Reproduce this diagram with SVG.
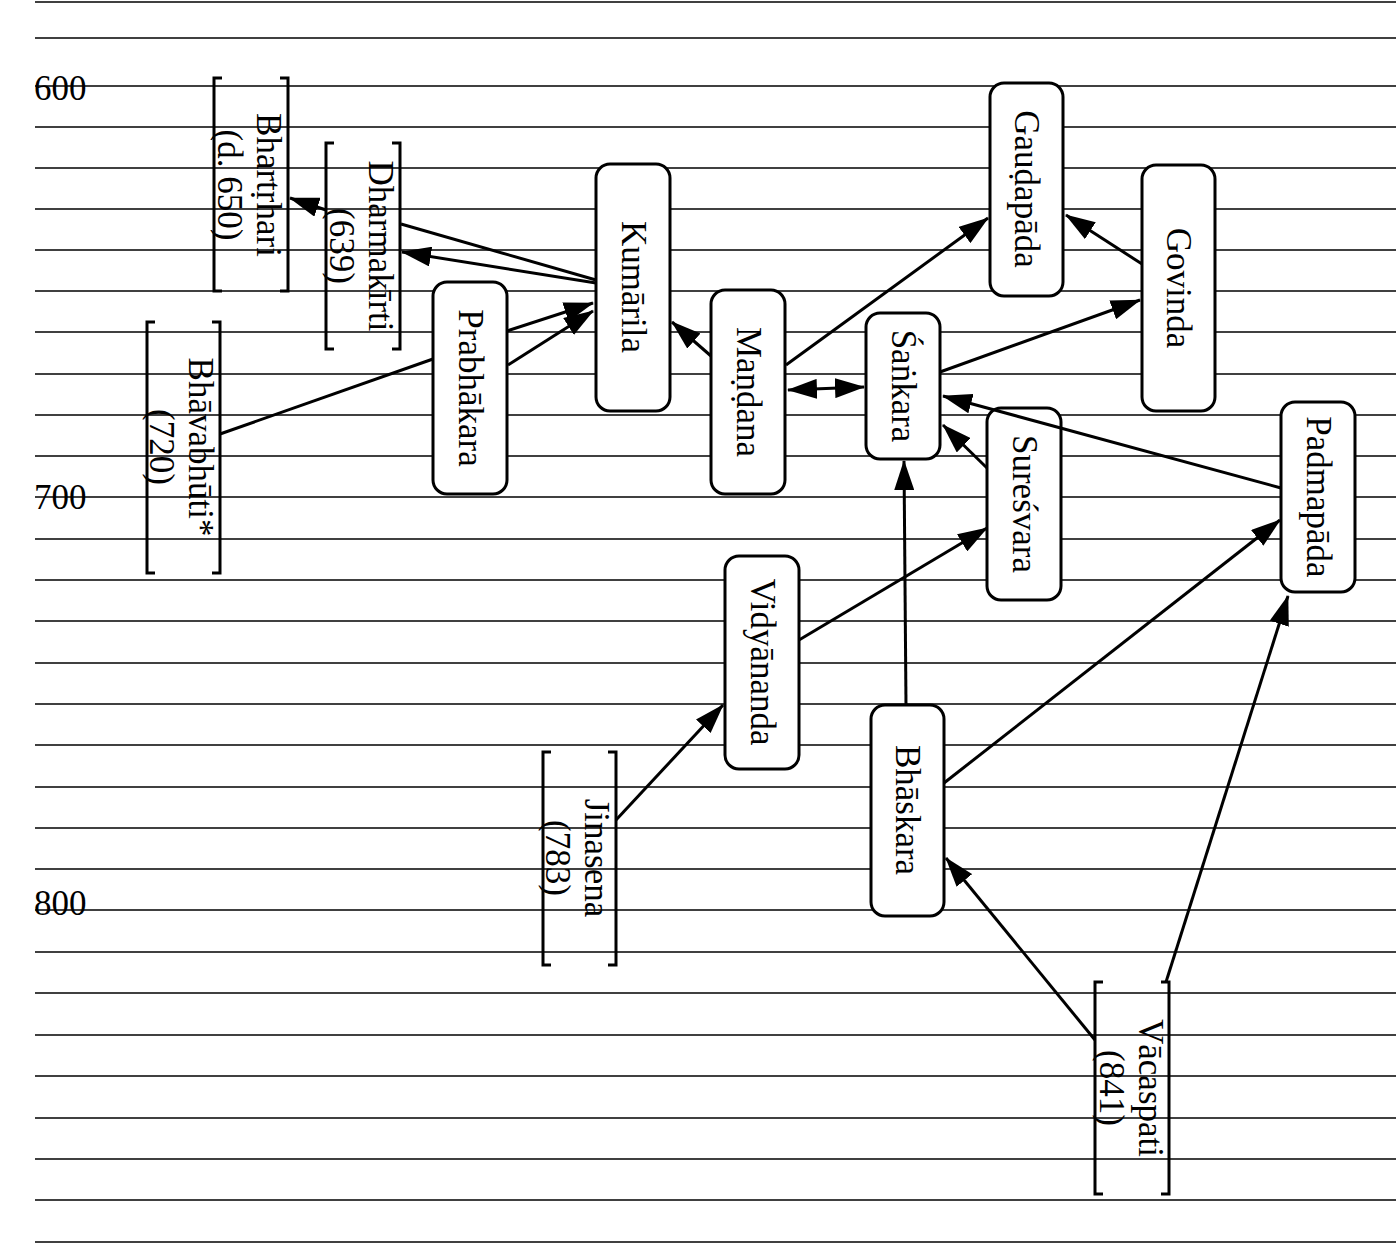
<svg xmlns="http://www.w3.org/2000/svg" width="1396" height="1250" viewBox="0 0 1396 1250">
<style>
.g line{stroke:#000;stroke-width:1.5}
.b{fill:#fff;stroke:#000;stroke-width:3}
.k{fill:none;stroke:#000;stroke-width:3}
text{font-family:"Liberation Serif","DejaVu Serif",serif;font-size:35px;fill:#000}
.t{text-anchor:middle;dominant-baseline:central}
.c line{stroke:#000;stroke-width:3;fill:none}
</style>
<defs>
<marker id="a" viewBox="0 0 30 20" refX="29" refY="10" markerWidth="30" markerHeight="20" markerUnits="userSpaceOnUse" orient="auto-start-reverse"><path d="M0,0L30,10L0,20z" fill="#000"/></marker>
</defs>
<rect width="1396" height="1250" fill="#fff"/>
<g class="g">
<line x1="35" y1="2" x2="1396" y2="2"/><line x1="35" y1="38" x2="1396" y2="38"/>
<line x1="35" y1="86" x2="1396" y2="86"/><line x1="35" y1="127" x2="1396" y2="127"/>
<line x1="35" y1="168" x2="1396" y2="168"/><line x1="35" y1="209" x2="1396" y2="209"/>
<line x1="35" y1="250" x2="1396" y2="250"/><line x1="35" y1="291" x2="1396" y2="291"/>
<line x1="35" y1="332" x2="1396" y2="332"/><line x1="35" y1="374" x2="1396" y2="374"/>
<line x1="35" y1="415" x2="1396" y2="415"/><line x1="35" y1="456" x2="1396" y2="456"/>
<line x1="35" y1="497" x2="1396" y2="497"/><line x1="35" y1="539" x2="1396" y2="539"/>
<line x1="35" y1="580" x2="1396" y2="580"/><line x1="35" y1="621" x2="1396" y2="621"/>
<line x1="35" y1="663" x2="1396" y2="663"/><line x1="35" y1="704" x2="1396" y2="704"/>
<line x1="35" y1="745" x2="1396" y2="745"/><line x1="35" y1="787" x2="1396" y2="787"/>
<line x1="35" y1="828" x2="1396" y2="828"/><line x1="35" y1="869" x2="1396" y2="869"/>
<line x1="35" y1="910" x2="1396" y2="910"/><line x1="35" y1="952" x2="1396" y2="952"/>
<line x1="35" y1="993" x2="1396" y2="993"/><line x1="35" y1="1035" x2="1396" y2="1035"/>
<line x1="35" y1="1076" x2="1396" y2="1076"/><line x1="35" y1="1118" x2="1396" y2="1118"/>
<line x1="35" y1="1159" x2="1396" y2="1159"/><line x1="35" y1="1200" x2="1396" y2="1200"/>
<line x1="35" y1="1242" x2="1396" y2="1242"/>
</g>
<text x="34" y="100" font-size="46">600</text>
<text x="34" y="509" font-size="46">700</text>
<text x="34" y="915" font-size="46">800</text>
<g id="bhartrhari"><path class="k" d="M222,78H214V291H222M280,78H288V291H280"/>
<text class="t" transform="rotate(90 268 185)" x="268" y="185">Bhartṛhari</text>
<text class="t" transform="rotate(90 229 185)" x="229" y="185">(d. 650)</text></g>
<g id="dharmakirti"><path class="k" d="M334,143H326V349H334M392,143H400V349H392"/>
<text class="t" transform="rotate(90 380 246)" x="380" y="246">Dharmakīrti</text>
<text class="t" transform="rotate(90 341 246)" x="341" y="246">(639)</text></g>
<g id="bhavabhuti"><path class="k" d="M155,322H147V573H155M212,322H220V573H212"/>
<text class="t" transform="rotate(90 200 447)" x="200" y="447">Bhāvabhūti*</text>
<text class="t" transform="rotate(90 161 447)" x="161" y="447">(720)</text></g>
<g id="prabhakara"><rect class="b" x="433" y="282" width="74" height="212" rx="14"/>
<text class="t" transform="rotate(90 470 388)" x="470" y="388">Prabhākara</text></g>
<g id="kumarila"><rect class="b" x="596" y="164" width="74" height="247" rx="14"/>
<text class="t" transform="rotate(90 633 287)" x="633" y="287">Kumārila</text></g>
<g id="mandana"><rect class="b" x="711" y="290" width="74" height="204" rx="14"/>
<text class="t" transform="rotate(90 748 392)" x="748" y="392">Maṇḍana</text></g>
<g id="sankara"><rect class="b" x="866" y="313" width="74" height="146" rx="14"/>
<text class="t" transform="rotate(90 903 386)" x="903" y="386">Śaṅkara</text></g>
<g id="gaudapada"><rect class="b" x="990" y="83" width="73" height="213" rx="14"/>
<text class="t" transform="rotate(90 1026 189)" x="1026" y="189">Gauḍapāda</text></g>
<g id="govinda"><rect class="b" x="1142" y="165" width="73" height="246" rx="14"/>
<text class="t" transform="rotate(90 1178 288)" x="1178" y="288">Govinda</text></g>
<g id="suresvara"><rect class="b" x="987" y="408" width="74" height="192" rx="14"/>
<text class="t" transform="rotate(90 1024 504)" x="1024" y="504">Sureśvara</text></g>
<g id="padmapada"><rect class="b" x="1281" y="402" width="74" height="190" rx="14"/>
<text class="t" transform="rotate(90 1318 497)" x="1318" y="497">Padmapāda</text></g>
<g id="vidyananda"><rect class="b" x="725" y="556" width="74" height="213" rx="14"/>
<text class="t" transform="rotate(90 762 662)" x="762" y="662">Vidyānanda</text></g>
<g id="bhaskara"><rect class="b" x="871" y="705" width="73" height="211" rx="14"/>
<text class="t" transform="rotate(90 907 810)" x="907" y="810">Bhāskara</text></g>
<g id="jinasena"><path class="k" d="M551,752H543V965H551M608,752H616V965H608"/>
<text class="t" transform="rotate(90 596 858)" x="596" y="858">Jinasena</text>
<text class="t" transform="rotate(90 557 858)" x="557" y="858">(783)</text></g>
<g id="vacaspati"><path class="k" d="M1103,982H1095V1194H1103M1161,982H1169V1194H1161"/>
<text class="t" transform="rotate(90 1150 1088)" x="1150" y="1088">Vācaspati</text>
<text class="t" transform="rotate(90 1111 1088)" x="1111" y="1088">(841)</text></g>
<g class="c" id="connectors">
<line x1="326" y1="210" x2="290" y2="198" marker-end="url(#a)"/>
<line x1="596" y1="280" x2="401" y2="224"/>
<line x1="596" y1="283" x2="402" y2="252" marker-end="url(#a)"/>
<line x1="507" y1="331" x2="593" y2="303" marker-end="url(#a)"/>
<line x1="220" y1="434" x2="433" y2="359"/>
<line x1="508" y1="365" x2="593" y2="311" marker-end="url(#a)"/>
<line x1="711" y1="356" x2="672" y2="322" marker-end="url(#a)"/>
<line x1="788" y1="390" x2="864" y2="387" marker-start="url(#a)" marker-end="url(#a)"/>
<line x1="786" y1="365" x2="988" y2="218" marker-end="url(#a)"/>
<line x1="1142" y1="264" x2="1066" y2="215" marker-end="url(#a)"/>
<line x1="940" y1="372" x2="1140" y2="300" marker-end="url(#a)"/>
<line x1="1281" y1="488" x2="943" y2="396" marker-end="url(#a)"/>
<line x1="987" y1="468" x2="943" y2="425" marker-end="url(#a)"/>
<line x1="906" y1="705" x2="904" y2="461" marker-end="url(#a)"/>
<line x1="799" y1="640" x2="987" y2="528" marker-end="url(#a)"/>
<line x1="944" y1="783" x2="1280" y2="520" marker-end="url(#a)"/>
<line x1="616" y1="820" x2="723" y2="705" marker-end="url(#a)"/>
<line x1="1095" y1="1040" x2="946" y2="858" marker-end="url(#a)"/>
<line x1="1166" y1="982" x2="1288" y2="596" marker-end="url(#a)"/>
</g>
</svg>
